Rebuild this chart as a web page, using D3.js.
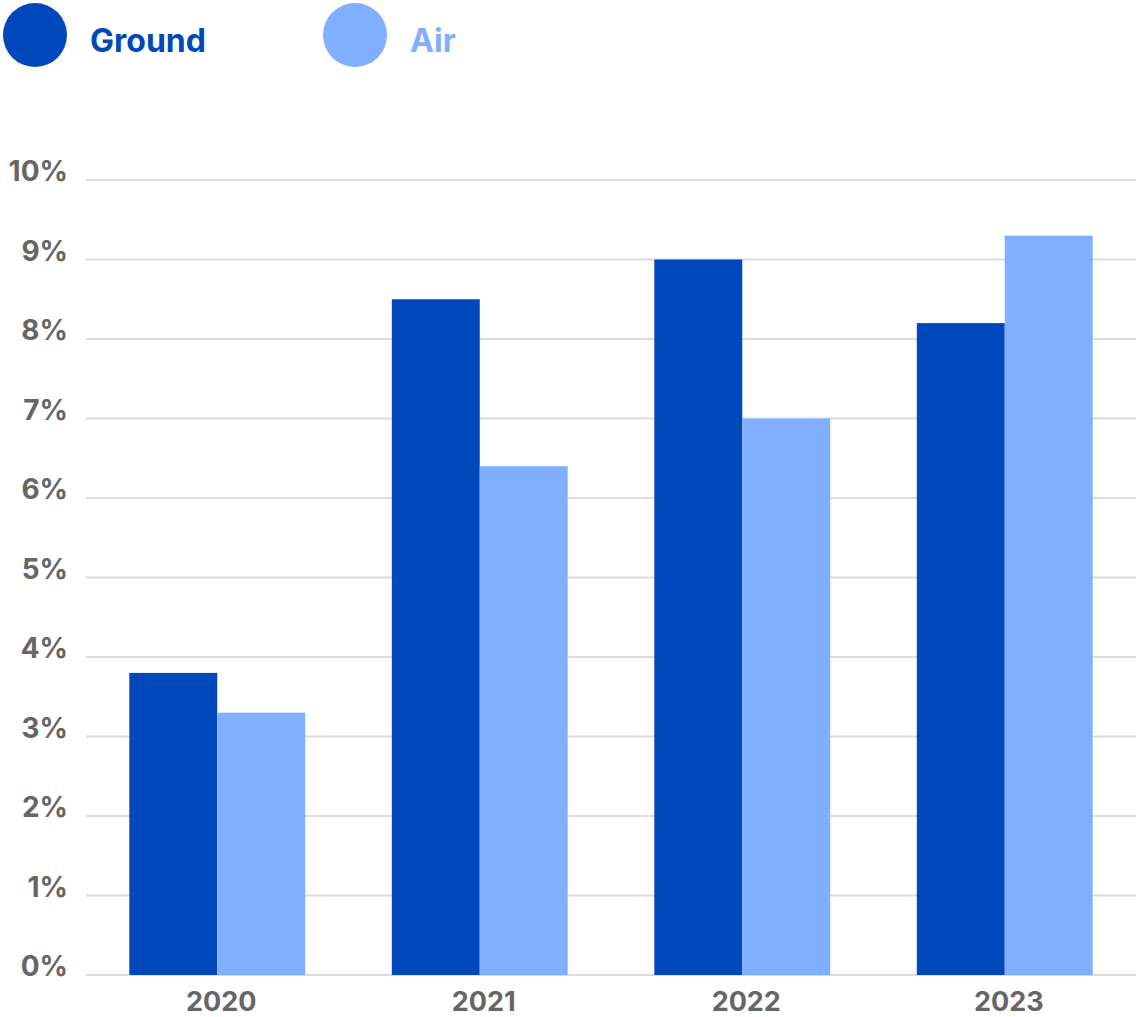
<!DOCTYPE html>
<html>
<head>
<meta charset="utf-8">
<script src="https://cdn.jsdelivr.net/npm/d3@7"></script>
<style>
  html, body { margin: 0; padding: 0; background: #fff; }
  svg { display: block; font-family: Inter, "Noto Sans", sans-serif; }
</style>
</head>
<body>
<svg id="chart" width="1136" height="1017"></svg>
<script>
// Yearly growth rates by transport mode
const years = ["2020", "2021", "2022", "2023"];
const seriesNames = ["Ground", "Air"];
const groundValues = [3.8, 8.5, 9.0, 8.2];
const airValues = [3.3, 6.4, 7.0, 9.3];
const yTicks = [0, 1, 2, 3, 4, 5, 6, 7, 8, 9, 10];
const seriesColors = ["#0048BC", "#80AFFF"];

const svg = d3.select("#chart");
const plot = { left: 86, right: 1136, top: 180, bottom: 975 };

const x = d3.scaleBand()
  .domain(years)
  .range([plot.left, plot.right])
  .paddingInner(0.33)
  .paddingOuter(0.165);

const xSub = d3.scaleBand()
  .domain(seriesNames)
  .range([0, x.bandwidth()]);

const y = d3.scaleLinear()
  .domain([0, 10])
  .range([plot.bottom, plot.top]);

// Gridlines
svg.append("g")
  .selectAll("line")
  .data(yTicks)
  .join("line")
  .attr("x1", plot.left)
  .attr("x2", plot.right)
  .attr("y1", d => y(d))
  .attr("y2", d => y(d))
  .attr("stroke", "#dcdcdc")
  .attr("stroke-width", 2);

// Y tick labels
svg.append("g")
  .selectAll("text")
  .data(yTicks)
  .join("text")
  .attr("x", 68)
  .attr("y", d => y(d) + 1)
  .attr("text-anchor", "end")
  .attr("font-size", 28)
  .attr("font-weight", 700)
  .attr("fill", "#666666")
  .text(d => d + "%");

// Bars
const rows = years.map((yr, i) => ({ year: yr, values: [groundValues[i], airValues[i]] }));
const groups = svg.append("g")
  .selectAll("g")
  .data(rows)
  .join("g")
  .attr("transform", d => `translate(${x(d.year)},0)`);

groups.selectAll("rect")
  .data(d => d.values.map((v, j) => ({ name: seriesNames[j], value: v, color: seriesColors[j] })))
  .join("rect")
  .attr("x", d => xSub(d.name))
  .attr("width", xSub.bandwidth())
  .attr("y", d => y(d.value))
  .attr("height", d => y(0) - y(d.value))
  .attr("fill", d => d.color);

// X axis labels
svg.append("g")
  .selectAll("text")
  .data(years)
  .join("text")
  .attr("x", d => x(d) + x.bandwidth() / 2 + 4)
  .attr("y", 1011)
  .attr("text-anchor", "middle")
  .attr("font-size", 27)
  .attr("font-weight", 700)
  .attr("fill", "#666666")
  .text(d => d);

// Legend
const legendX = [35, 355];
const legend = svg.append("g")
  .selectAll("g")
  .data(seriesNames)
  .join("g")
  .attr("transform", (d, i) => `translate(${legendX[i]},35)`);

legend.append("circle")
  .attr("r", 32)
  .attr("fill", (d, i) => seriesColors[i]);

legend.append("text")
  .attr("x", 55)
  .attr("y", 17)
  .attr("font-size", 32)
  .attr("font-weight", 700)
  .attr("fill", (d, i) => seriesColors[i])
  .text(d => d);
</script>
</body>
</html>
